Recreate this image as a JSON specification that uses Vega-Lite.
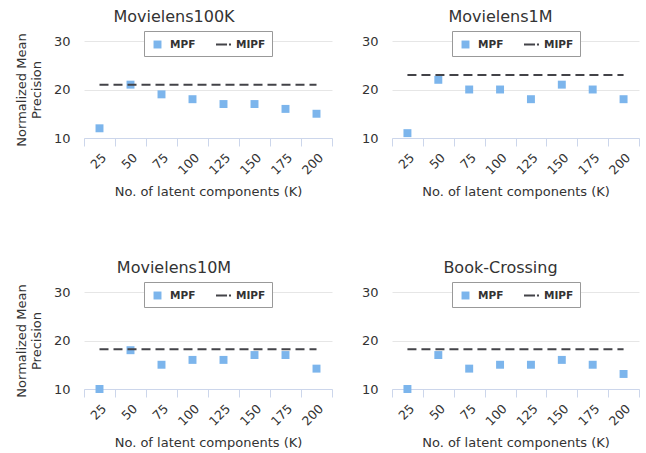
{
  "$schema": "https://vega.github.io/schema/vega-lite/v6.json",
  "padding": {"left": 15, "top": 8, "right": 0, "bottom": 0},
  "background": "white",
  "datasets": {
    "pts": [
      {"dataset": "Movielens100K", "series": "MPF", "K": 25, "value": 12},
      {"dataset": "Movielens100K", "series": "MPF", "K": 50, "value": 21},
      {"dataset": "Movielens100K", "series": "MPF", "K": 75, "value": 19},
      {"dataset": "Movielens100K", "series": "MPF", "K": 100, "value": 18},
      {"dataset": "Movielens100K", "series": "MPF", "K": 125, "value": 17},
      {"dataset": "Movielens100K", "series": "MPF", "K": 150, "value": 17},
      {"dataset": "Movielens100K", "series": "MPF", "K": 175, "value": 16},
      {"dataset": "Movielens100K", "series": "MPF", "K": 200, "value": 15},
      {"dataset": "Movielens1M", "series": "MPF", "K": 25, "value": 11},
      {"dataset": "Movielens1M", "series": "MPF", "K": 50, "value": 22},
      {"dataset": "Movielens1M", "series": "MPF", "K": 75, "value": 20},
      {"dataset": "Movielens1M", "series": "MPF", "K": 100, "value": 20},
      {"dataset": "Movielens1M", "series": "MPF", "K": 125, "value": 18},
      {"dataset": "Movielens1M", "series": "MPF", "K": 150, "value": 21},
      {"dataset": "Movielens1M", "series": "MPF", "K": 175, "value": 20},
      {"dataset": "Movielens1M", "series": "MPF", "K": 200, "value": 18},
      {"dataset": "Movielens10M", "series": "MPF", "K": 25, "value": 10},
      {"dataset": "Movielens10M", "series": "MPF", "K": 50, "value": 18},
      {"dataset": "Movielens10M", "series": "MPF", "K": 75, "value": 15},
      {"dataset": "Movielens10M", "series": "MPF", "K": 100, "value": 16},
      {"dataset": "Movielens10M", "series": "MPF", "K": 125, "value": 16},
      {"dataset": "Movielens10M", "series": "MPF", "K": 150, "value": 17},
      {"dataset": "Movielens10M", "series": "MPF", "K": 175, "value": 17},
      {"dataset": "Movielens10M", "series": "MPF", "K": 200, "value": 14.2},
      {"dataset": "Book-Crossing", "series": "MPF", "K": 25, "value": 10},
      {"dataset": "Book-Crossing", "series": "MPF", "K": 50, "value": 17},
      {"dataset": "Book-Crossing", "series": "MPF", "K": 75, "value": 14.2},
      {"dataset": "Book-Crossing", "series": "MPF", "K": 100, "value": 15},
      {"dataset": "Book-Crossing", "series": "MPF", "K": 125, "value": 15},
      {"dataset": "Book-Crossing", "series": "MPF", "K": 150, "value": 16},
      {"dataset": "Book-Crossing", "series": "MPF", "K": 175, "value": 15},
      {"dataset": "Book-Crossing", "series": "MPF", "K": 200, "value": 13.1}
    ],
    "mipf": [
      {"dataset": "Movielens100K", "series": "MIPF", "K": 25, "value": 21},
      {"dataset": "Movielens100K", "series": "MIPF", "K": 200, "value": 21},
      {"dataset": "Movielens1M", "series": "MIPF", "K": 25, "value": 23},
      {"dataset": "Movielens1M", "series": "MIPF", "K": 200, "value": 23},
      {"dataset": "Movielens10M", "series": "MIPF", "K": 25, "value": 18.2},
      {"dataset": "Movielens10M", "series": "MIPF", "K": 200, "value": 18.2},
      {"dataset": "Book-Crossing", "series": "MIPF", "K": 25, "value": 18.2},
      {"dataset": "Book-Crossing", "series": "MIPF", "K": 200, "value": 18.2}
    ]
  },
  "config": {
    "font": "DejaVu Sans",
    "view": {"stroke": null},
    "title": {"fontSize": 16, "fontWeight": "normal", "color": "#333333", "frame": "bounds", "anchor": "middle", "offset": 6},
    "axis": {"labelFont": "DejaVu Sans", "titleFont": "DejaVu Sans", "titleFontWeight": "normal", "titleColor": "#333333", "labelColor": "#333333", "titleFontSize": 13},
    "axisX": {"labelAngle": -45, "labelFontSize": 12.5, "tickBand": "extent", "tickSize": 8, "tickColor": "#ccd6eb", "domainColor": "#ccd6eb", "grid": false, "titlePadding": 9, "labelPadding": 5},
    "axisY": {"labelFontSize": 13, "grid": true, "gridColor": "#e6e6e6", "domain": false, "ticks": false, "labelPadding": 14, "titlePadding": 10, "titleLineHeight": 15},
    "legend": {"orient": "none", "legendX": 60, "legendY": -10, "direction": "horizontal", "title": null, "labelFont": "DejaVu Sans", "labelFontSize": 10.5, "labelFontWeight": "bold", "labelColor": "#333333", "strokeColor": "#999999", "fillColor": "white", "padding": 6, "columnPadding": 20, "labelOffset": 5, "symbolSize": 225, "symbolStrokeWidth": 0}
  },
  "resolve": {"scale": {"color": "independent", "shape": "independent"}, "legend": {"color": "independent", "shape": "independent"}},
  "spacing": 60,
  "vconcat": [
    {
      "spacing": 28,
      "resolve": {"scale": {"color": "independent", "shape": "independent"}, "legend": {"color": "independent", "shape": "independent"}},
      "hconcat": [
        {
          "title": "Movielens100K",
          "width": 248, "height": 97,
          "layer": [
            {
              "data": {"name": "pts"},
              "transform": [{"filter": "datum.dataset === 'Movielens100K'"}],
              "mark": {"type": "point", "filled": true, "opacity": 1, "size": 225},
              "encoding": {
                "x": {"field": "K", "type": "ordinal", "scale": {"type": "band", "paddingInner": 0, "paddingOuter": 0}, "title": "No. of latent components (K)"},
                "y": {"field": "value", "type": "quantitative", "scale": {"domain": [10, 30], "nice": false, "zero": false}, "axis": {"values": [10, 20, 30]}, "title": ["Normalized Mean", "Precision"]},
                "color": {"field": "series", "type": "nominal", "scale": {"domain": ["MPF", "MIPF"], "range": ["#7cb5ec", "#434348"]}},
                "shape": {"field": "series", "type": "nominal", "scale": {"domain": ["MPF", "MIPF"], "range": ["M-0.53,-0.53H0.53V0.53H-0.53Z", "M-1,-0.13H0.47V0.13H-1Z M0.73,-0.13H1V0.13H0.73Z"]}}
              }
            },
            {
              "data": {"name": "mipf"},
              "transform": [{"filter": "datum.dataset === 'Movielens100K'"}],
              "mark": {"type": "line", "color": "#434348", "strokeWidth": 2, "strokeDash": [9, 5]},
              "encoding": {
                "x": {"field": "K", "type": "ordinal"},
                "y": {"field": "value", "type": "quantitative"}
              }
            }
          ]
        },
        {
          "title": "Movielens1M",
          "width": 247, "height": 97,
          "layer": [
            {
              "data": {"name": "pts"},
              "transform": [{"filter": "datum.dataset === 'Movielens1M'"}],
              "mark": {"type": "point", "filled": true, "opacity": 1, "size": 225},
              "encoding": {
                "x": {"field": "K", "type": "ordinal", "scale": {"type": "band", "paddingInner": 0, "paddingOuter": 0}, "title": "No. of latent components (K)"},
                "y": {"field": "value", "type": "quantitative", "scale": {"domain": [10, 30], "nice": false, "zero": false}, "axis": {"values": [10, 20, 30]}, "title": null},
                "color": {"field": "series", "type": "nominal", "scale": {"domain": ["MPF", "MIPF"], "range": ["#7cb5ec", "#434348"]}},
                "shape": {"field": "series", "type": "nominal", "scale": {"domain": ["MPF", "MIPF"], "range": ["M-0.53,-0.53H0.53V0.53H-0.53Z", "M-1,-0.13H0.47V0.13H-1Z M0.73,-0.13H1V0.13H0.73Z"]}}
              }
            },
            {
              "data": {"name": "mipf"},
              "transform": [{"filter": "datum.dataset === 'Movielens1M'"}],
              "mark": {"type": "line", "color": "#434348", "strokeWidth": 2, "strokeDash": [9, 5]},
              "encoding": {
                "x": {"field": "K", "type": "ordinal"},
                "y": {"field": "value", "type": "quantitative"}
              }
            }
          ]
        }
      ]
    },
    {
      "spacing": 28,
      "resolve": {"scale": {"color": "independent", "shape": "independent"}, "legend": {"color": "independent", "shape": "independent"}},
      "hconcat": [
        {
          "title": "Movielens10M",
          "width": 248, "height": 97,
          "layer": [
            {
              "data": {"name": "pts"},
              "transform": [{"filter": "datum.dataset === 'Movielens10M'"}],
              "mark": {"type": "point", "filled": true, "opacity": 1, "size": 225},
              "encoding": {
                "x": {"field": "K", "type": "ordinal", "scale": {"type": "band", "paddingInner": 0, "paddingOuter": 0}, "title": "No. of latent components (K)"},
                "y": {"field": "value", "type": "quantitative", "scale": {"domain": [10, 30], "nice": false, "zero": false}, "axis": {"values": [10, 20, 30]}, "title": ["Normalized Mean", "Precision"]},
                "color": {"field": "series", "type": "nominal", "scale": {"domain": ["MPF", "MIPF"], "range": ["#7cb5ec", "#434348"]}},
                "shape": {"field": "series", "type": "nominal", "scale": {"domain": ["MPF", "MIPF"], "range": ["M-0.53,-0.53H0.53V0.53H-0.53Z", "M-1,-0.13H0.47V0.13H-1Z M0.73,-0.13H1V0.13H0.73Z"]}}
              }
            },
            {
              "data": {"name": "mipf"},
              "transform": [{"filter": "datum.dataset === 'Movielens10M'"}],
              "mark": {"type": "line", "color": "#434348", "strokeWidth": 2, "strokeDash": [9, 5]},
              "encoding": {
                "x": {"field": "K", "type": "ordinal"},
                "y": {"field": "value", "type": "quantitative"}
              }
            }
          ]
        },
        {
          "title": "Book-Crossing",
          "width": 247, "height": 97,
          "layer": [
            {
              "data": {"name": "pts"},
              "transform": [{"filter": "datum.dataset === 'Book-Crossing'"}],
              "mark": {"type": "point", "filled": true, "opacity": 1, "size": 225},
              "encoding": {
                "x": {"field": "K", "type": "ordinal", "scale": {"type": "band", "paddingInner": 0, "paddingOuter": 0}, "title": "No. of latent components (K)"},
                "y": {"field": "value", "type": "quantitative", "scale": {"domain": [10, 30], "nice": false, "zero": false}, "axis": {"values": [10, 20, 30]}, "title": null},
                "color": {"field": "series", "type": "nominal", "scale": {"domain": ["MPF", "MIPF"], "range": ["#7cb5ec", "#434348"]}},
                "shape": {"field": "series", "type": "nominal", "scale": {"domain": ["MPF", "MIPF"], "range": ["M-0.53,-0.53H0.53V0.53H-0.53Z", "M-1,-0.13H0.47V0.13H-1Z M0.73,-0.13H1V0.13H0.73Z"]}}
              }
            },
            {
              "data": {"name": "mipf"},
              "transform": [{"filter": "datum.dataset === 'Book-Crossing'"}],
              "mark": {"type": "line", "color": "#434348", "strokeWidth": 2, "strokeDash": [9, 5]},
              "encoding": {
                "x": {"field": "K", "type": "ordinal"},
                "y": {"field": "value", "type": "quantitative"}
              }
            }
          ]
        }
      ]
    }
  ]
}
